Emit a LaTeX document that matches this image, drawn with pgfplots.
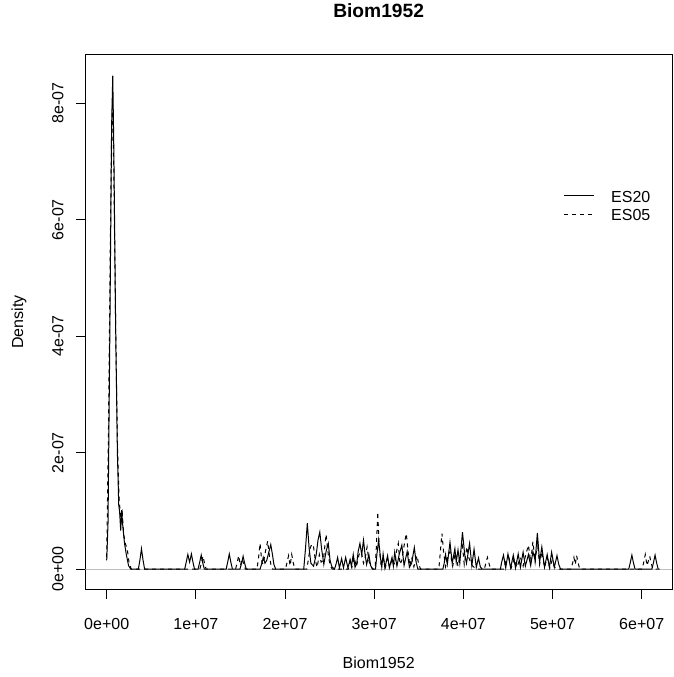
\documentclass[border=0pt]{standalone}
\usepackage{fontspec}
\setmainfont{Liberation Sans}
\usepackage{pgfplots}
\usepackage{pgfplotstable}
\pgfplotsset{compat=1.18}
\definecolor{rgray}{HTML}{BEBEBE}

% Kernel density estimates of Biom1952 (x in 1e6, density in 1e-8)
\pgfplotstableread{
x y
0.00 1.5
0.15 8
0.35 40
0.55 76
0.68 84.7
0.80 72
1.00 42
1.20 20
1.35 11
1.45 9.8
1.57 6.6
1.68 10.1
1.80 7.5
2.00 4.4
2.20 2.5
2.45 0.6
2.70 0
3.55 0
3.73 1.6
3.90 3.5
4.07 1.6
4.25 0
8.75 0
8.92 1.2
9.10 2.5
9.30 1.2
9.50 2.6
9.67 1.2
9.85 0
10.25 0
10.42 1.1
10.60 2.4
10.77 1.1
10.95 0
13.40 0
13.57 1.2
13.75 2.6
13.92 1.2
14.10 0
14.95 0
15.12 1.0
15.30 2.2
15.47 1.0
15.65 0
17.20 0
17.40 1.0
17.56 2.0
17.75 1.0
17.95 1.5
18.20 3.0
18.40 4.2
18.60 2.4
18.75 0.8
18.95 0
22.10 0
22.30 3.6
22.50 7.9
22.70 3.6
22.90 1.0
23.20 0.5
23.50 2.5
23.70 5.0
23.90 6.35
24.10 3.5
24.35 0.8
24.60 3.0
24.85 4.4
25.05 1.5
25.25 0.4
25.55 0
25.75 1.0
25.90 2.0
26.10 0.2
26.35 1.8
26.55 0.2
26.80 2.0
27.05 0.2
27.30 1.6
27.45 0.5
27.65 2.5
27.85 0.3
28.05 1.0
28.20 3.0
28.40 4.4
28.60 2.5
28.80 4.95
29.00 2.2
29.15 0.8
29.40 2.5
29.60 0.6
29.80 0
30.15 0
30.30 2.5
30.50 5.0
30.70 2.0
30.85 0.3
31.00 2.6
31.20 0.2
31.50 2.3
31.70 0.2
32.00 2.0
32.15 0.5
32.30 2.9
32.55 0.5
32.80 2.5
33.10 4.1
33.35 0.6
33.70 3.0
33.95 0.3
34.20 1.0
34.50 3.7
34.70 1.2
34.90 0
37.70 0
37.85 1.0
38.00 2.5
38.20 0.8
38.50 4.6
38.75 1.0
39.05 3.5
39.20 1.2
39.40 3.3
39.60 1.0
39.90 6.35
40.15 2.5
40.35 1.0
40.70 4.4
40.95 0.6
41.20 3.4
41.45 0.3
41.70 1.9
41.90 0.4
42.10 0
44.15 0
44.30 1.2
44.50 2.4
44.75 0.2
45.00 2.6
45.30 0.2
45.60 2.4
45.85 0.2
46.15 2.6
46.40 0.3
46.70 2.9
46.95 0.5
47.30 2.5
47.55 0.6
47.80 3.0
48.05 1.5
48.30 6.2
48.55 1.2
48.80 3.8
49.10 0.3
49.40 2.5
49.65 0.3
49.90 2.9
50.20 0.3
50.50 2.3
50.70 0.8
50.90 0
58.55 0
58.72 1.1
58.90 2.4
59.07 1.1
59.25 0
61.15 0
61.32 1.1
61.50 2.4
61.67 1.1
61.85 0
62.00 0
}\esTwenty

\pgfplotstableread{
x y
0.00 2
0.20 24
0.40 55
0.55 75
0.65 80
0.80 68
1.00 42
1.20 22
1.40 12
1.60 8
1.75 9.5
1.90 6
2.10 4.3
2.30 3.5
2.50 1.2
2.75 0
10.45 0
10.62 1.0
10.80 2.2
10.97 1.0
11.15 0
14.45 0
14.62 1.0
14.80 2.3
15.00 0.6
15.20 1.8
15.37 0.8
15.55 0
16.85 0
17.02 1.8
17.20 4.4
17.40 1.2
17.55 0.8
17.80 3.0
18.05 4.8
18.25 2.2
18.45 0.5
18.60 0
20.05 0
20.22 1.1
20.40 2.3
20.57 0.6
20.75 2.5
20.92 1.1
21.10 0
22.45 0
22.65 2.0
22.80 3.5
23.00 4.3
23.20 3.8
23.40 1.5
23.60 0.3
23.85 2.5
24.05 1.2
24.30 1.5
24.60 5.95
24.85 2.5
25.05 0.6
25.30 0
27.10 0
27.30 1.5
27.50 0.3
27.75 2.0
28.00 0.4
28.30 2.5
28.55 3.0
28.80 1.0
29.00 2.0
29.20 3.8
29.40 1.5
29.60 0.4
29.90 0
30.10 0
30.25 4.0
30.40 9.8
30.55 4.0
30.75 1.0
31.00 2.0
31.25 0.3
31.50 1.8
31.75 0.2
32.00 1.8
32.30 0.8
32.50 3.0
32.70 4.4
32.90 0.8
33.10 1.5
33.35 4.0
33.60 6.1
33.80 3.0
34.00 0.5
34.20 2.0
34.45 0.4
34.80 2.3
35.00 0.8
35.20 0
37.25 0
37.42 3.0
37.60 6.1
37.78 3.0
38.00 0.4
38.25 2.0
38.50 3.0
38.80 0.5
39.10 2.8
39.40 0.5
39.70 3.0
39.90 4.0
40.10 0.8
40.40 3.8
40.60 2.0
40.80 1.2
41.00 0.6
41.20 0.3
41.40 0
42.35 0
42.52 1.0
42.70 2.0
42.87 1.0
43.05 0
44.50 0
44.80 1.5
45.10 2.0
45.40 0.3
45.70 1.8
46.00 0.3
46.40 2.0
46.70 0.5
47.00 2.5
47.30 4.1
47.55 1.2
47.80 4.7
48.05 1.2
48.30 4.5
48.55 0.8
48.80 3.0
49.10 0.3
49.40 2.0
49.70 0.2
49.95 1.5
50.20 0.4
50.40 0
52.05 0
52.25 1.0
52.40 2.0
52.55 0.8
52.70 2.3
52.88 1.0
53.05 0
60.05 0
60.22 1.1
60.40 2.5
60.60 0.6
60.90 2.2
61.07 1.0
61.25 0
61.80 0
}\esFive

\begin{document}
\begin{tikzpicture}
\useasboundingbox (-85.3pt,-88pt) rectangle (587.7pt,589pt);
\begin{axis}[
  at={(0pt,0pt)}, anchor=south west,
  scale only axis,
  width=586.7pt, height=534pt,
  xmin=-2.4, xmax=63.4,
  ymin=-3.42, ymax=88.25,
  axis line style={black, line width=1pt},
  xtick={0,10,20,30,40,50,60},
  xticklabels={0e+00,1e+07,2e+07,3e+07,4e+07,5e+07,6e+07},
  ytick={0,20,40,60,80},
  yticklabels={0e+00,2e-07,4e-07,6e-07,8e-07},
  xtick pos=bottom, ytick pos=left,
  tick align=outside,
  major tick length=9.6pt,
  tick style={black, line width=1pt},
  tick label style={font=\fontsize{16}{19.2}\selectfont},
  xticklabel style={anchor=base},
  yticklabel style={rotate=90, anchor=base},
  xticklabel shift=31pt,
  yticklabel shift=12.4pt,
  title={Biom1952},
  title style={font=\bfseries\fontsize{19.2}{23}\selectfont,
    at={(axis description cs:0.5,1.05936)}, anchor=base},
  xlabel={Biom1952},
  xlabel style={font=\fontsize{16}{19.2}\selectfont,
    at={(axis description cs:0.5,-0.1498)}, anchor=base},
  ylabel={Density},
  ylabel style={font=\fontsize{16}{19.2}\selectfont,
    at={(axis description cs:-0.10585,0.5)}, anchor=base, rotate=0},
  legend style={draw=none, fill=none, inner sep=0pt,
    at={(axis description cs:0.8147,0.7459)}, anchor=north west,
    font=\fontsize{16}{19.2}\selectfont,
    nodes={inner sep=0pt, text height=11.5pt, text depth=0pt},
    row sep=7pt, column sep=0pt},
  legend cell align=left,
  legend image code/.code={
    \draw[#1] (0pt,0.75pt) -- (30pt,0.75pt);
    \path (0pt,0pt) (46.7pt,0pt);
  },
]
\addplot[rgray, line width=1pt, forget plot] coordinates {(-2.4,0) (63.4,0)};
\addplot[black, line width=1pt] table {\esTwenty};
\addlegendentry{ES20}
\addplot[black, line width=1pt, dash pattern=on 4pt off 4pt] table {\esFive};
\addlegendentry{ES05}
\end{axis}
\end{tikzpicture}
\end{document}
